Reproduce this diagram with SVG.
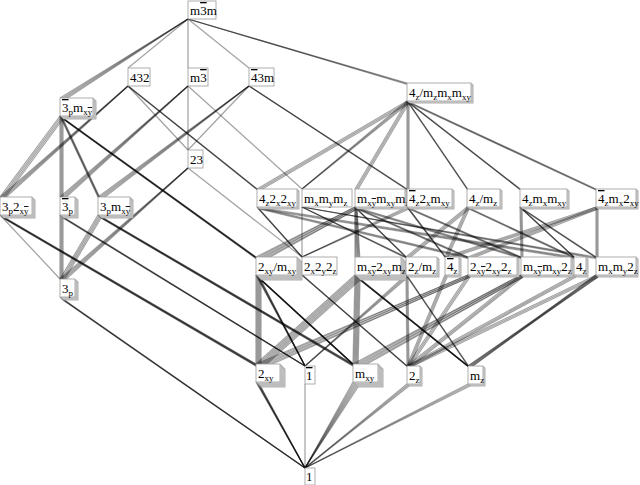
<svg xmlns="http://www.w3.org/2000/svg" width="640" height="485" viewBox="0 0 640 485">
<style>
#connectors path{stroke:#000;stroke-opacity:.36;stroke-width:1.25;fill:none}
.bx{fill:#fff;stroke:#999;stroke-width:.8}
text{font-family:"Liberation Serif","Times New Roman",serif;font-size:13px;fill:#000}
.s{font-size:9px}
.ov{text-decoration:overline}
</style>
<rect width="640" height="485" fill="#fff"/>
<g id="connectors">
<path d="M188 19L128 68"/><path d="M188 19L188 68"/><path d="M188 19L249 68"/>
<path d="M188 19L407 83"/><path d="M188 19L408 84"/><path d="M188 19L409 85"/>
<path d="M188 19L60 98"/><path d="M188 19L61 99"/><path d="M188 19L62 100"/><path d="M188 19L63 101"/>
<path d="M128 86L188 150"/>
<path d="M128 86L257 189"/><path d="M128 86L258 190"/><path d="M128 86L259 191"/>
<path d="M128 86L0 197"/><path d="M128 86L1 198"/><path d="M128 86L2 199"/><path d="M128 86L3 200"/>
<path d="M188 86L188 150"/><path d="M188 86L302 189"/>
<path d="M188 86L60 197"/><path d="M188 86L61 198"/><path d="M188 86L62 199"/><path d="M188 86L63 200"/>
<path d="M249 86L188 150"/>
<path d="M249 86L407 189"/><path d="M249 86L408 190"/><path d="M249 86L409 191"/>
<path d="M249 86L98 197"/><path d="M249 86L99 198"/><path d="M249 86L100 199"/><path d="M249 86L101 200"/>
<path d="M407 101L257 189"/><path d="M408 102L258 190"/><path d="M409 103L259 191"/>
<path d="M407 101L302 189"/><path d="M408 102L302 189"/><path d="M409 103L302 189"/>
<path d="M407 101L355 189"/><path d="M408 102L356 190"/><path d="M409 103L357 191"/>
<path d="M407 101L407 189"/><path d="M408 102L408 190"/><path d="M409 103L409 191"/>
<path d="M407 101L467 189"/><path d="M408 102L468 190"/><path d="M409 103L469 191"/>
<path d="M407 101L520 189"/><path d="M408 102L521 190"/><path d="M409 103L522 191"/>
<path d="M407 101L596 189"/><path d="M408 102L597 190"/><path d="M409 103L598 191"/>
<path d="M60 116L0 197"/><path d="M61 117L1 198"/><path d="M62 118L2 199"/><path d="M63 119L3 200"/>
<path d="M60 116L60 197"/><path d="M61 117L61 198"/><path d="M62 118L62 199"/><path d="M63 119L63 200"/>
<path d="M60 116L98 197"/><path d="M61 117L99 198"/><path d="M62 118L100 199"/><path d="M63 119L101 200"/>
<path d="M60 116L256 257"/><path d="M60 116L257 258"/><path d="M61 117L258 259"/><path d="M62 118L259 260"/><path d="M62 118L260 261"/><path d="M63 119L261 262"/>
<path d="M188 168L302 257"/>
<path d="M188 168L60 279"/><path d="M188 168L61 280"/><path d="M188 168L62 281"/><path d="M188 168L63 282"/>
<path d="M1 216L61 280"/>
<path d="M0 215L256 364"/><path d="M0 215L257 365"/><path d="M1 216L258 366"/><path d="M2 217L259 367"/><path d="M2 217L260 368"/><path d="M3 218L261 369"/>
<path d="M60 215L60 279"/><path d="M61 216L61 280"/><path d="M62 217L62 281"/><path d="M63 218L63 282"/>
<path d="M60 215L305 366"/><path d="M61 216L305 366"/><path d="M62 217L305 366"/><path d="M63 218L305 366"/>
<path d="M98 215L60 279"/><path d="M99 216L61 280"/><path d="M100 217L62 281"/><path d="M101 218L63 282"/>
<path d="M98 215L353 364"/><path d="M98 215L354 365"/><path d="M99 216L355 366"/><path d="M100 217L356 367"/><path d="M100 217L357 368"/><path d="M101 218L358 369"/>
<path d="M257 207L574 257"/><path d="M258 208L575 258"/><path d="M259 209L576 259"/>
<path d="M257 207L302 257"/><path d="M258 208L302 257"/><path d="M259 209L302 257"/>
<path d="M257 207L468 257"/><path d="M258 208L469 258"/><path d="M259 209L470 259"/>
<path d="M302 207L302 257"/>
<path d="M302 207L596 257"/><path d="M302 207L597 258"/><path d="M302 207L598 259"/>
<path d="M302 207L406 257"/><path d="M302 207L407 258"/><path d="M302 207L408 259"/>
<path d="M355 207L468 257"/><path d="M356 208L469 258"/><path d="M357 209L470 259"/>
<path d="M355 207L521 257"/><path d="M356 208L522 258"/><path d="M357 209L523 259"/>
<path d="M355 207L355 257"/><path d="M355 207L356 258"/><path d="M356 208L357 259"/><path d="M356 208L358 260"/><path d="M357 209L359 261"/><path d="M357 209L360 262"/>
<path d="M355 207L406 257"/><path d="M356 208L407 258"/><path d="M357 209L408 259"/>
<path d="M355 207L256 257"/><path d="M355 207L257 258"/><path d="M356 208L258 259"/><path d="M356 208L259 260"/><path d="M357 209L260 261"/><path d="M357 209L261 262"/>
<path d="M407 207L445 257"/><path d="M408 208L446 258"/><path d="M409 209L447 259"/>
<path d="M407 207L302 257"/><path d="M408 208L302 257"/><path d="M409 209L302 257"/>
<path d="M407 207L521 257"/><path d="M408 208L522 258"/><path d="M409 209L523 259"/>
<path d="M467 207L574 257"/><path d="M468 208L575 258"/><path d="M469 209L576 259"/>
<path d="M467 207L445 257"/><path d="M468 208L446 258"/><path d="M469 209L447 259"/>
<path d="M467 207L406 257"/><path d="M468 208L407 258"/><path d="M469 209L408 259"/>
<path d="M520 207L574 257"/><path d="M521 208L575 258"/><path d="M522 209L576 259"/>
<path d="M520 207L596 257"/><path d="M521 208L597 258"/><path d="M522 209L598 259"/>
<path d="M520 207L521 257"/><path d="M521 208L522 258"/><path d="M522 209L523 259"/>
<path d="M596 207L445 257"/><path d="M597 208L446 258"/><path d="M598 209L447 259"/>
<path d="M596 207L468 257"/><path d="M597 208L469 258"/><path d="M598 209L470 259"/>
<path d="M596 207L596 257"/><path d="M597 208L597 258"/><path d="M598 209L598 259"/>
<path d="M256 275L256 364"/><path d="M257 276L257 365"/><path d="M258 277L258 366"/><path d="M259 278L259 367"/><path d="M260 279L260 368"/><path d="M261 280L261 369"/>
<path d="M256 275L305 366"/><path d="M257 276L305 366"/><path d="M258 277L305 366"/><path d="M259 278L305 366"/><path d="M260 279L305 366"/><path d="M261 280L305 366"/>
<path d="M256 275L353 364"/><path d="M257 276L354 365"/><path d="M258 277L355 366"/><path d="M259 278L356 367"/><path d="M260 279L357 368"/><path d="M261 280L358 369"/>
<path d="M302 275L407 366"/><path d="M302 275L408 367"/><path d="M302 275L409 368"/>
<path d="M355 275L353 364"/><path d="M356 276L354 365"/><path d="M357 277L355 366"/><path d="M358 278L356 367"/><path d="M359 279L357 368"/><path d="M360 280L358 369"/>
<path d="M355 275L256 364"/><path d="M356 276L257 365"/><path d="M357 277L258 366"/><path d="M358 278L259 367"/><path d="M359 279L260 368"/><path d="M360 280L261 369"/>
<path d="M355 275L468 366"/><path d="M356 276L468 366"/><path d="M357 277L469 367"/><path d="M358 278L469 367"/><path d="M359 279L470 368"/><path d="M360 280L470 368"/>
<path d="M406 275L407 366"/><path d="M407 276L408 367"/><path d="M408 277L409 368"/>
<path d="M406 275L305 366"/><path d="M407 276L305 366"/><path d="M408 277L305 366"/>
<path d="M406 275L468 366"/><path d="M407 276L469 367"/><path d="M408 277L470 368"/>
<path d="M445 275L407 366"/><path d="M446 276L408 367"/><path d="M447 277L409 368"/>
<path d="M468 275L256 364"/><path d="M468 275L257 365"/><path d="M469 276L258 366"/><path d="M469 276L259 367"/><path d="M470 277L260 368"/><path d="M470 277L261 369"/>
<path d="M468 275L407 366"/><path d="M469 276L408 367"/><path d="M470 277L409 368"/>
<path d="M521 275L353 364"/><path d="M521 275L354 365"/><path d="M522 276L355 366"/><path d="M522 276L356 367"/><path d="M523 277L357 368"/><path d="M523 277L358 369"/>
<path d="M521 275L407 366"/><path d="M522 276L408 367"/><path d="M523 277L409 368"/>
<path d="M574 275L407 366"/><path d="M575 276L408 367"/><path d="M576 277L409 368"/>
<path d="M596 275L469 367"/><path d="M596 275L470 368"/><path d="M597 276L468 366"/><path d="M597 276L470 368"/><path d="M598 277L468 366"/><path d="M598 277L469 367"/>
<path d="M596 275L407 366"/><path d="M597 276L408 367"/><path d="M598 277L409 368"/>
<path d="M60 297L305 468"/><path d="M61 298L305 468"/><path d="M62 299L305 468"/><path d="M63 300L305 468"/>
<path d="M256 382L305 468"/><path d="M257 383L305 468"/><path d="M258 384L305 468"/><path d="M259 385L305 468"/><path d="M260 386L305 468"/><path d="M261 387L305 468"/>
<path d="M305 384L305 468"/>
<path d="M353 382L305 468"/><path d="M354 383L305 468"/><path d="M355 384L305 468"/><path d="M356 385L305 468"/><path d="M357 386L305 468"/><path d="M358 387L305 468"/>
<path d="M407 384L305 468"/><path d="M408 385L305 468"/><path d="M409 386L305 468"/>
<path d="M468 384L305 468"/><path d="M469 385L305 468"/><path d="M470 386L305 468"/>
</g>
<g id="n_m3m"><rect class="bx" x="188" y="1" width="28" height="18"/><text x="190" y="15">m<tspan class="ov">3</tspan>m</text></g>
<g id="n_432"><rect class="bx" x="128" y="68" width="22" height="18"/><text x="130" y="82">432</text></g>
<g id="n_m3"><rect class="bx" x="188" y="68" width="20" height="18"/><text x="190" y="82">m<tspan class="ov">3</tspan></text></g>
<g id="n_43m"><rect class="bx" x="249" y="68" width="25" height="18"/><text x="251" y="82"><tspan class="ov">4</tspan>3m</text></g>
<g id="n_4mmm"><rect class="bx" x="409" y="85" width="64" height="18"/><rect class="bx" x="408" y="84" width="64" height="18"/><rect class="bx" x="407" y="83" width="64" height="18"/><text x="409" y="97">4<tspan class="s" dy="3">z</tspan><tspan dy="-3">/m</tspan><tspan class="s" dy="3">z</tspan><tspan dy="-3">m</tspan><tspan class="s" dy="3">x</tspan><tspan dy="-3">m</tspan><tspan class="s" dy="3">xy</tspan></text></g>
<g id="n_3bm"><rect class="bx" x="63" y="101" width="33" height="18"/><rect class="bx" x="62" y="100" width="33" height="18"/><rect class="bx" x="61" y="99" width="33" height="18"/><rect class="bx" x="60" y="98" width="33" height="18"/><text x="62" y="112"><tspan class="ov">3</tspan><tspan class="s" dy="3">p</tspan><tspan dy="-3">m</tspan><tspan class="s" dy="3">x<tspan class="ov">y</tspan></tspan></text></g>
<g id="n_23"><rect class="bx" x="188" y="150" width="15" height="18"/><text x="190" y="164">23</text></g>
<g id="n_32"><rect class="bx" x="3" y="200" width="32" height="18"/><rect class="bx" x="2" y="199" width="32" height="18"/><rect class="bx" x="1" y="198" width="32" height="18"/><rect class="bx" x="0" y="197" width="32" height="18"/><text x="2" y="211">3<tspan class="s" dy="3">p</tspan><tspan dy="-3">2</tspan><tspan class="s" dy="3">x<tspan class="ov">y</tspan></tspan></text></g>
<g id="n_3b"><rect class="bx" x="63" y="200" width="15" height="18"/><rect class="bx" x="62" y="199" width="15" height="18"/><rect class="bx" x="61" y="198" width="15" height="18"/><rect class="bx" x="60" y="197" width="15" height="18"/><text x="62" y="211"><tspan class="ov">3</tspan><tspan class="s" dy="3">p</tspan></text></g>
<g id="n_3m"><rect class="bx" x="101" y="200" width="32" height="18"/><rect class="bx" x="100" y="199" width="32" height="18"/><rect class="bx" x="99" y="198" width="32" height="18"/><rect class="bx" x="98" y="197" width="32" height="18"/><text x="100" y="211">3<tspan class="s" dy="3">p</tspan><tspan dy="-3">m</tspan><tspan class="s" dy="3">x<tspan class="ov">y</tspan></tspan></text></g>
<g id="n_422"><rect class="bx" x="259" y="191" width="40" height="18"/><rect class="bx" x="258" y="190" width="40" height="18"/><rect class="bx" x="257" y="189" width="40" height="18"/><text x="259" y="203">4<tspan class="s" dy="3">z</tspan><tspan dy="-3">2</tspan><tspan class="s" dy="3">x</tspan><tspan dy="-3">2</tspan><tspan class="s" dy="3">xy</tspan></text></g>
<g id="n_mmm"><rect class="bx" x="302" y="189" width="50" height="18"/><text x="304" y="203">m<tspan class="s" dy="3">x</tspan><tspan dy="-3">m</tspan><tspan class="s" dy="3">y</tspan><tspan dy="-3">m</tspan><tspan class="s" dy="3">z</tspan></text></g>
<g id="n_mmm2"><rect class="bx" x="357" y="191" width="50" height="18"/><rect class="bx" x="356" y="190" width="50" height="18"/><rect class="bx" x="355" y="189" width="50" height="18"/><text x="357" y="203">m<tspan class="s" dy="3">x<tspan class="ov">y</tspan></tspan><tspan dy="-3">m</tspan><tspan class="s" dy="3">xy</tspan><tspan dy="-3">m</tspan><tspan class="s" dy="3">z</tspan></text></g>
<g id="n_42m"><rect class="bx" x="409" y="191" width="45" height="18"/><rect class="bx" x="408" y="190" width="45" height="18"/><rect class="bx" x="407" y="189" width="45" height="18"/><text x="409" y="203"><tspan class="ov">4</tspan><tspan class="s" dy="3">z</tspan><tspan dy="-3">2</tspan><tspan class="s" dy="3">x</tspan><tspan dy="-3">m</tspan><tspan class="s" dy="3">xy</tspan></text></g>
<g id="n_4m"><rect class="bx" x="469" y="191" width="33" height="18"/><rect class="bx" x="468" y="190" width="33" height="18"/><rect class="bx" x="467" y="189" width="33" height="18"/><text x="469" y="203">4<tspan class="s" dy="3">z</tspan><tspan dy="-3">/m</tspan><tspan class="s" dy="3">z</tspan></text></g>
<g id="n_4mm"><rect class="bx" x="522" y="191" width="47" height="18"/><rect class="bx" x="521" y="190" width="47" height="18"/><rect class="bx" x="520" y="189" width="47" height="18"/><text x="522" y="203">4<tspan class="s" dy="3">z</tspan><tspan dy="-3">m</tspan><tspan class="s" dy="3">x</tspan><tspan dy="-3">m</tspan><tspan class="s" dy="3">xy</tspan></text></g>
<g id="n_4m2"><rect class="bx" x="598" y="191" width="40" height="18"/><rect class="bx" x="597" y="190" width="40" height="18"/><rect class="bx" x="596" y="189" width="40" height="18"/><text x="598" y="203"><tspan class="ov">4</tspan><tspan class="s" dy="3">z</tspan><tspan dy="-3">m</tspan><tspan class="s" dy="3">x</tspan><tspan dy="-3">2</tspan><tspan class="s" dy="3">xy</tspan></text></g>
<g id="n_3"><rect class="bx" x="63" y="282" width="15" height="18"/><rect class="bx" x="62" y="281" width="15" height="18"/><rect class="bx" x="61" y="280" width="15" height="18"/><rect class="bx" x="60" y="279" width="15" height="18"/><text x="62" y="293">3<tspan class="s" dy="3">p</tspan></text></g>
<g id="n_2m_xy"><rect class="bx" x="261" y="262" width="41" height="18"/><rect class="bx" x="260" y="261" width="41" height="18"/><rect class="bx" x="259" y="260" width="41" height="18"/><rect class="bx" x="258" y="259" width="41" height="18"/><rect class="bx" x="257" y="258" width="41" height="18"/><rect class="bx" x="256" y="257" width="41" height="18"/><text x="258" y="271">2<tspan class="s" dy="3">xy</tspan><tspan dy="-3">/m</tspan><tspan class="s" dy="3">xy</tspan></text></g>
<g id="n_222"><rect class="bx" x="302" y="257" width="35" height="18"/><text x="304" y="271">2<tspan class="s" dy="3">x</tspan><tspan dy="-3">2</tspan><tspan class="s" dy="3">y</tspan><tspan dy="-3">2</tspan><tspan class="s" dy="3">z</tspan></text></g>
<g id="n_m2m"><rect class="bx" x="360" y="262" width="46" height="18"/><rect class="bx" x="359" y="261" width="46" height="18"/><rect class="bx" x="358" y="260" width="46" height="18"/><rect class="bx" x="357" y="259" width="46" height="18"/><rect class="bx" x="356" y="258" width="46" height="18"/><rect class="bx" x="355" y="257" width="46" height="18"/><text x="357" y="271">m<tspan class="s" dy="3">x<tspan class="ov">y</tspan></tspan><tspan dy="-3">2</tspan><tspan class="s" dy="3">xy</tspan><tspan dy="-3">m</tspan><tspan class="s" dy="3">z</tspan></text></g>
<g id="n_2m_z"><rect class="bx" x="408" y="259" width="31" height="18"/><rect class="bx" x="407" y="258" width="31" height="18"/><rect class="bx" x="406" y="257" width="31" height="18"/><text x="408" y="271">2<tspan class="s" dy="3">z</tspan><tspan dy="-3">/m</tspan><tspan class="s" dy="3">z</tspan></text></g>
<g id="n_4b"><rect class="bx" x="447" y="259" width="14" height="18"/><rect class="bx" x="446" y="258" width="14" height="18"/><rect class="bx" x="445" y="257" width="14" height="18"/><text x="447" y="271"><tspan class="ov">4</tspan><tspan class="s" dy="3">z</tspan></text></g>
<g id="n_222b"><rect class="bx" x="470" y="259" width="49" height="18"/><rect class="bx" x="469" y="258" width="49" height="18"/><rect class="bx" x="468" y="257" width="49" height="18"/><text x="470" y="271">2<tspan class="s" dy="3">x<tspan class="ov">y</tspan></tspan><tspan dy="-3">2</tspan><tspan class="s" dy="3">xy</tspan><tspan dy="-3">2</tspan><tspan class="s" dy="3">z</tspan></text></g>
<g id="n_mm2b"><rect class="bx" x="523" y="259" width="50" height="18"/><rect class="bx" x="522" y="258" width="50" height="18"/><rect class="bx" x="521" y="257" width="50" height="18"/><text x="523" y="271">m<tspan class="s" dy="3">x<tspan class="ov">y</tspan></tspan><tspan dy="-3">m</tspan><tspan class="s" dy="3">xy</tspan><tspan dy="-3">2</tspan><tspan class="s" dy="3">z</tspan></text></g>
<g id="n_4"><rect class="bx" x="576" y="259" width="12" height="18"/><rect class="bx" x="575" y="258" width="12" height="18"/><rect class="bx" x="574" y="257" width="12" height="18"/><text x="576" y="271">4<tspan class="s" dy="3">z</tspan></text></g>
<g id="n_mm2"><rect class="bx" x="598" y="259" width="40" height="18"/><rect class="bx" x="597" y="258" width="40" height="18"/><rect class="bx" x="596" y="257" width="40" height="18"/><text x="598" y="271">m<tspan class="s" dy="3">x</tspan><tspan dy="-3">m</tspan><tspan class="s" dy="3">y</tspan><tspan dy="-3">2</tspan><tspan class="s" dy="3">z</tspan></text></g>
<g id="n_2xy"><rect class="bx" x="261" y="369" width="24" height="18"/><rect class="bx" x="260" y="368" width="24" height="18"/><rect class="bx" x="259" y="367" width="24" height="18"/><rect class="bx" x="258" y="366" width="24" height="18"/><rect class="bx" x="257" y="365" width="24" height="18"/><rect class="bx" x="256" y="364" width="24" height="18"/><text x="258" y="378">2<tspan class="s" dy="3">xy</tspan></text></g>
<g id="n_1b"><rect class="bx" x="305" y="366" width="10" height="18"/><text x="306" y="380"><tspan class="ov">1</tspan></text></g>
<g id="n_mxy"><rect class="bx" x="358" y="369" width="25" height="18"/><rect class="bx" x="357" y="368" width="25" height="18"/><rect class="bx" x="356" y="367" width="25" height="18"/><rect class="bx" x="355" y="366" width="25" height="18"/><rect class="bx" x="354" y="365" width="25" height="18"/><rect class="bx" x="353" y="364" width="25" height="18"/><text x="355" y="378">m<tspan class="s" dy="3">xy</tspan></text></g>
<g id="n_2z"><rect class="bx" x="409" y="368" width="13" height="18"/><rect class="bx" x="408" y="367" width="13" height="18"/><rect class="bx" x="407" y="366" width="13" height="18"/><text x="409" y="380">2<tspan class="s" dy="3">z</tspan></text></g>
<g id="n_mz"><rect class="bx" x="470" y="368" width="15" height="18"/><rect class="bx" x="469" y="367" width="15" height="18"/><rect class="bx" x="468" y="366" width="15" height="18"/><text x="470" y="380">m<tspan class="s" dy="3">z</tspan></text></g>
<g id="n_1"><rect class="bx" x="305" y="468" width="10" height="17"/><text x="306" y="481">1</text></g>
</svg>
